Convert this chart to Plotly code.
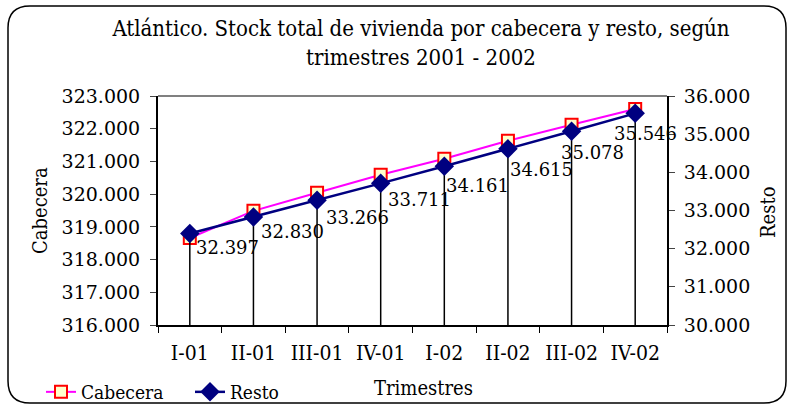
import plotly.graph_objects as go

categories = ["I-01", "II-01", "III-01", "IV-01", "I-02", "II-02", "III-02", "IV-02"]
cabecera = [318660, 319490, 320040, 320590, 321080, 321630, 322120, 322600]
resto = [32397, 32830, 33266, 33711, 34161, 34615, 35078, 35546]
left_ticks = [316000, 317000, 318000, 319000, 320000, 321000, 322000, 323000]
right_ticks = [30000, 31000, 32000, 33000, 34000, 35000, 36000]
# label offsets (pixels) of the Resto data labels relative to their point
label_dx = [38, 39, 40, 39, 33, 34, 21, 10]
label_dy = [14, 15, 17, 16, 19, 21, 21, 20]

W, H = 792, 406
L, R, T, B = 158, 125, 96, 81
PW, PH = W - L - R, H - T - B
NUM = "DejaVu Serif"
TXT = "DejaVu Serif Condensed, DejaVu Serif"

def px(x):
    return (x - L) / PW

def py(y):
    return (H - B - y) / PH

fig = go.Figure()
fig.add_trace(go.Scatter(
    x=categories, y=cabecera, name="Cabecera", mode="lines+markers",
    line=dict(color="#FF00FF", width=2),
    marker=dict(symbol="square", size=12, color="#FFFFCC", line=dict(color="#FF0000", width=2)),
    yaxis="y",
))
fig.add_trace(go.Scatter(
    x=categories, y=resto, name="Resto", mode="lines+markers",
    line=dict(color="#000080", width=2.5),
    marker=dict(symbol="diamond", size=15, color="#000080"),
    error_y=dict(type="data", symmetric=False, array=[0] * len(resto),
                 arrayminus=[v - right_ticks[0] for v in resto],
                 width=0, thickness=1.5, color="black"),
    yaxis="y2",
))

annotations = [
    dict(text=f"{v:,}".replace(",", "."), x=c, y=v, xref="x", yref="y2",
         xshift=dx, yshift=-dy, xanchor="center", yanchor="middle", showarrow=False,
         font=dict(family=NUM, size=18, color="black"))
    for c, v, dx, dy in zip(categories, resto, label_dx, label_dy)
]

# rounded outer frame
x0, x1, y0, y1, r = 8, 786, 6, 403, 22
path = (f"M {px(x0 + r)} {py(y0)} L {px(x1 - r)} {py(y0)} "
        f"Q {px(x1)} {py(y0)} {px(x1)} {py(y0 + r)} L {px(x1)} {py(y1 - r)} "
        f"Q {px(x1)} {py(y1)} {px(x1 - r)} {py(y1)} L {px(x0 + r)} {py(y1)} "
        f"Q {px(x0)} {py(y1)} {px(x0)} {py(y1 - r)} L {px(x0)} {py(y0 + r)} "
        f"Q {px(x0)} {py(y0)} {px(x0 + r)} {py(y0)} Z")
fig.add_shape(type="path", path=path, xref="paper", yref="paper",
              line=dict(color="black", width=1.5), layer="below")
fig.add_shape(type="line", xref="paper", yref="paper", x0=0, x1=1, y0=1, y1=1,
              line=dict(color="#808080", width=2))

annotations += [
    dict(text="Trimestres", x=px(423), y=py(388), xref="paper", yref="paper",
         xanchor="center", yanchor="middle",
         showarrow=False, font=dict(family=TXT, size=20)),
    dict(text="Cabecera", x=px(40), y=py(211), xref="paper", yref="paper",
         xanchor="center", yanchor="middle",
         showarrow=False, textangle=-90, font=dict(family=TXT, size=20)),
    dict(text="Resto", x=px(768), y=py(213), xref="paper", yref="paper",
         xanchor="center", yanchor="middle",
         showarrow=False, textangle=-90, font=dict(family=TXT, size=20)),
]

fig.update_layout(
    width=W, height=H,
    margin=dict(l=L, r=R, t=T, b=B),
    paper_bgcolor="white", plot_bgcolor="white",
    separators=",.",
    font=dict(family=TXT, size=19, color="black"),
    title=dict(text="Atlántico. Stock total de vivienda por cabecera y resto, según<br>trimestres 2001 - 2002",
               x=421 / W, xanchor="center", xref="container",
               y=1 - 36 / H, yanchor="middle", yref="container",
               font=dict(family=TXT, size=22)),
    xaxis=dict(type="category", range=[-0.5, len(categories) - 0.5], tickangle=0,
               showline=True, linecolor="black", linewidth=2,
               ticks="outside", tickson="boundaries", ticklen=6, tickcolor="black",
               ticklabelstandoff=8,
               showgrid=False, tickfont=dict(family=TXT, size=21), automargin=False),
    yaxis=dict(range=[left_ticks[0], left_ticks[-1]], tickvals=left_ticks, tickformat=",.0f",
               showline=True, linecolor="black", linewidth=2, ticks="outside", ticklen=6,
               ticklabelstandoff=6,
               showgrid=False, zeroline=False, tickfont=dict(family=NUM, size=19),
               automargin=False),
    yaxis2=dict(range=[right_ticks[0], right_ticks[-1]], tickvals=right_ticks, tickformat=",.0f",
                overlaying="y", side="right", showline=True, linecolor="black", linewidth=2,
                ticks="outside", ticklen=6, ticklabelstandoff=5,
                showgrid=False, zeroline=False,
                tickfont=dict(family=NUM, size=19), automargin=False),
    showlegend=True,
    legend=dict(orientation="h", x=41 / W, xanchor="left", xref="container",
                y=(H - 392) / H, yanchor="middle", yref="container",
                font=dict(family=TXT, size=19), bgcolor="rgba(0,0,0,0)",
                entrywidth=104, entrywidthmode="pixels", tracegroupgap=0),
    annotations=annotations,
)

fig.write_html("out.html", config={"displayModeBar": False},
               post_script="document.body.style.margin='0';document.body.style.padding='0';")
